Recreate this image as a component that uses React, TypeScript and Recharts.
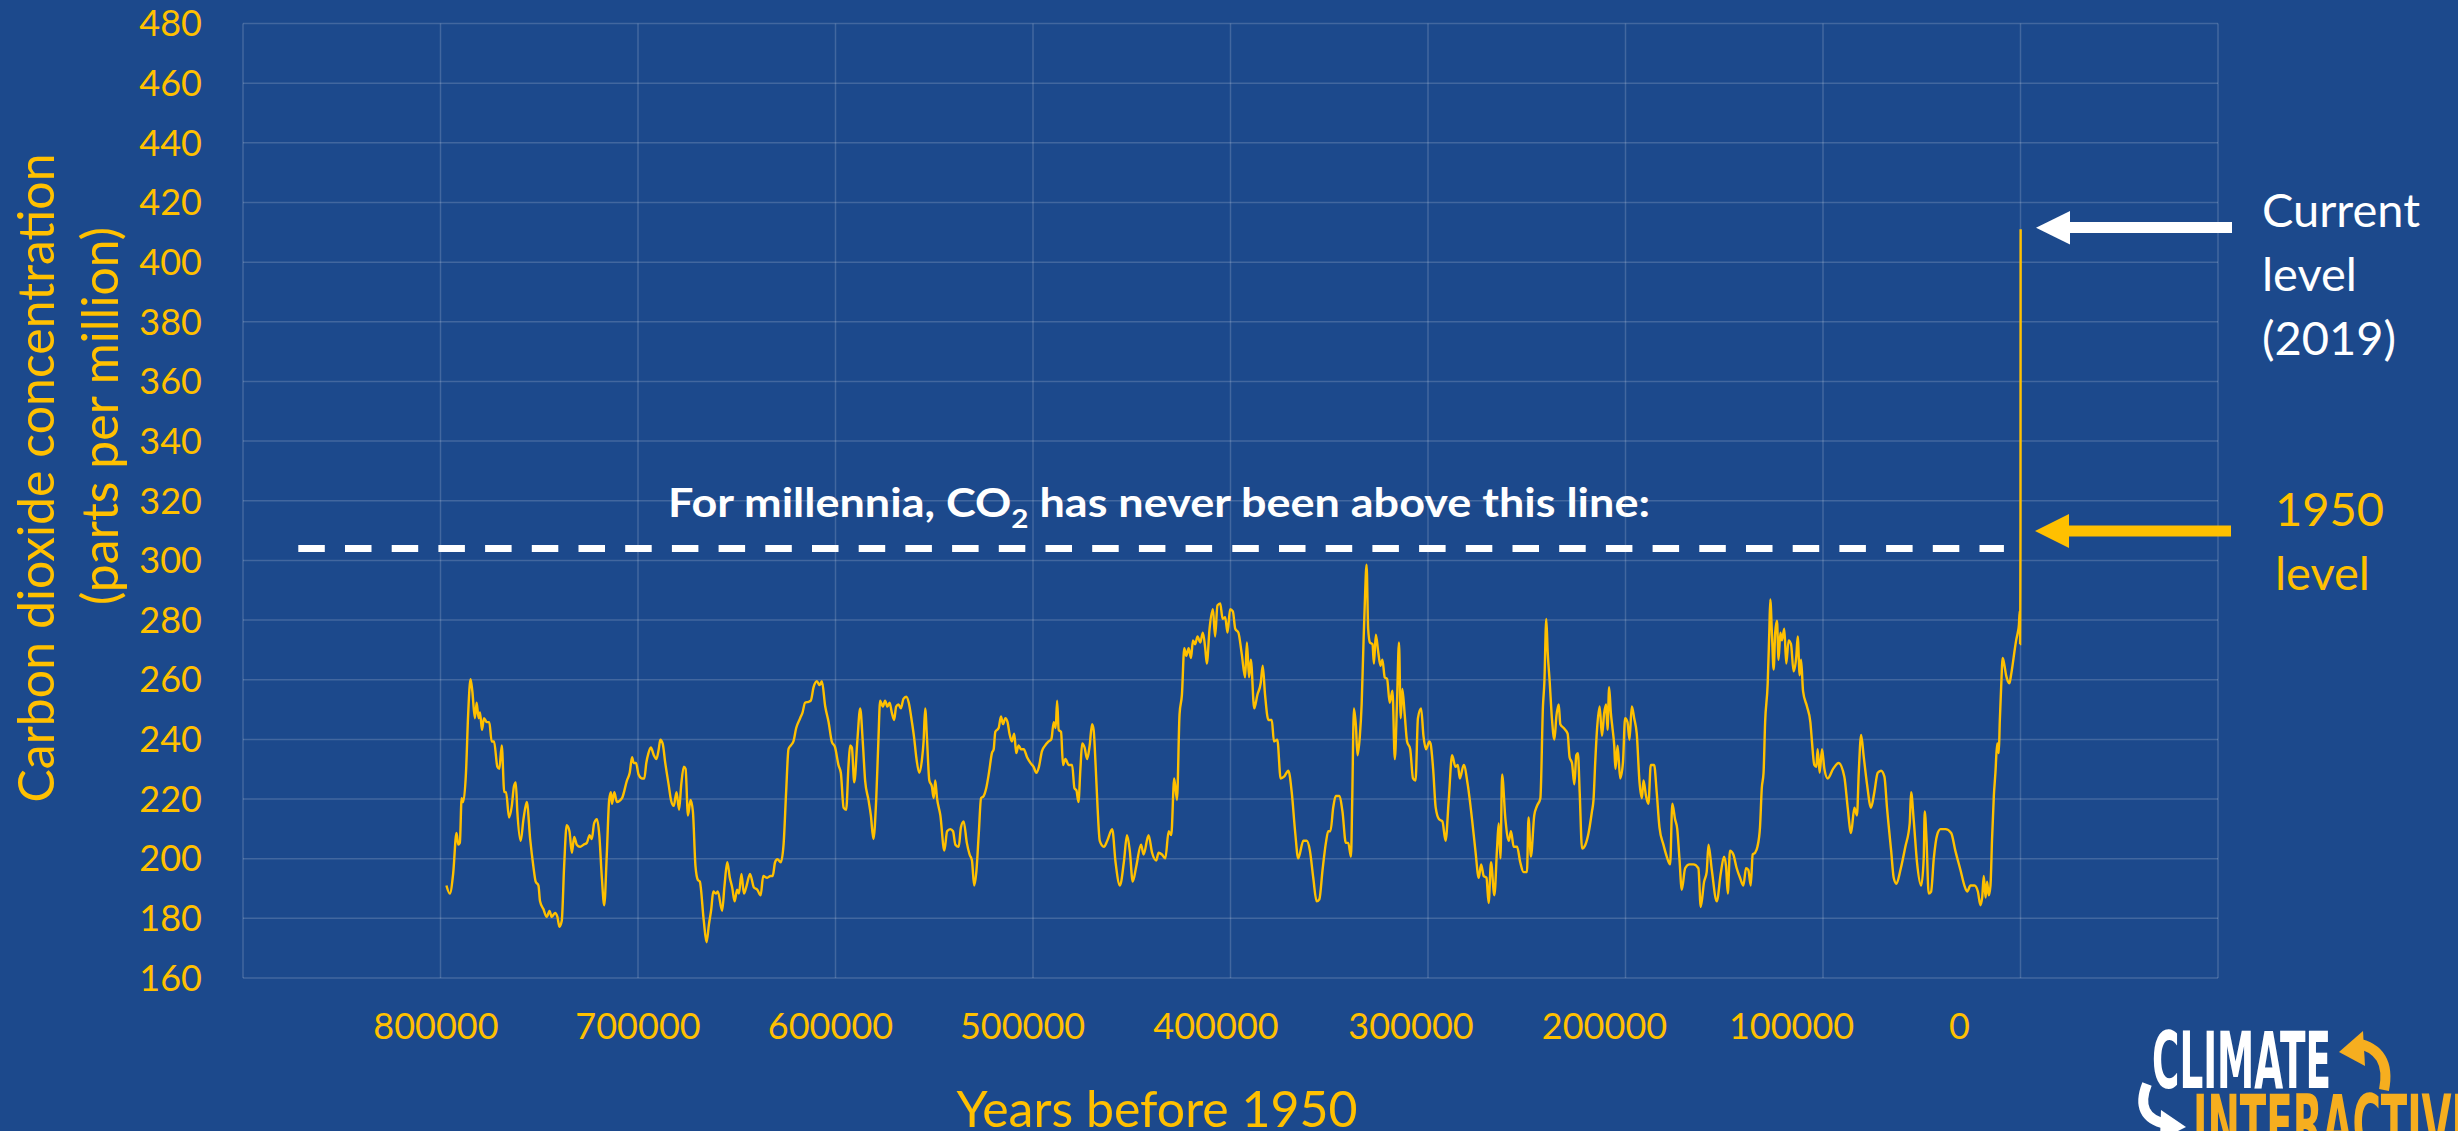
import { LineChart, Line, XAxis, YAxis, CartesianGrid, ReferenceLine } from "recharts";

// CO2 (ppm) against years before 1950, one glacial cycle per list
const cycle800k: [number, number][] = [
  [797000, 191], [795300, 188.3], [793600, 194.9], [791900, 208.6], [791000, 204.7], [790200, 205.3],
  [789300, 220.3], [788500, 219], [787100, 228.8], [786000, 248.4], [784800, 260.2], [783900, 256.3],
  [782600, 247.1], [781700, 252.3], [780700, 247.1], [780000, 249], [779000, 243.2], [778000, 247.1],
  [776600, 245.8], [775300, 245.8], [774100, 239.3], [772900, 239.3], [771200, 230.8], [770200, 230.1],
  [769000, 238], [767700, 222.3], [766800, 222.3], [765300, 213.8], [763900, 217.7], [762800, 224.3],
  [761900, 225.6], [761100, 215.8], [759400, 206], [758000, 213.2], [756300, 219], [754600, 206.6],
  [753000, 197.5], [751800, 192.3], [750400, 191], [749600, 185.7], [747900, 183.1], [746200, 180.5],
  [744800, 182.5], [743700, 180.5], [742000, 181.8], [740800, 180.5], [739800, 177.2], [738600, 179.2],
  [737400, 197.5], [736100, 211.2], [734700, 209.2], [733500, 202], [732300, 207.3], [731000, 204.7],
  [729300, 204], [727600, 204.7], [725900, 205.3], [724500, 207.9], [723400, 206.6], [722200, 211.9],
  [720800, 213.2], [719600, 207.9], [718300, 193.6], [717100, 184.4], [715800, 201.4], [714600, 219.7],
  [713700, 222.3], [713200, 218.4], [712000, 222.3], [710700, 219], [708100, 220.3], [705600, 226.2],
  [704200, 228.8], [703000, 234], [702200, 232.1], [701000, 232.1],
];

const cycle700k: [number, number][] = [
  [699700, 228.2], [698000, 226.9], [696800, 226.9], [695800, 232.1], [694700, 235.4], [693500, 237.3],
  [692000, 234.7], [690700, 233.4], [689500, 236.7], [688700, 239.9], [687500, 238.6], [686200, 232.1],
  [684500, 224.9], [683300, 219.7], [681900, 217.7], [680500, 222.3], [679200, 216.4], [678100, 224.9],
  [676800, 230.8], [675900, 230.1], [674700, 214.5], [673400, 219.7], [672200, 215.8], [670900, 197.5],
  [669700, 192.9], [668700, 192.3], [666700, 179.2], [665300, 172], [664100, 177.9], [662900, 183.1],
  [661900, 189], [660600, 188.3], [659600, 189], [657400, 182.5], [656200, 191], [654800, 198.8],
  [653500, 193.6], [652300, 190.3], [651100, 185.7], [649800, 189.6], [648900, 188.3], [647600, 194.9],
  [646400, 188.3], [645000, 191], [643300, 194.9], [641300, 190.3], [639600, 189.6], [637900, 187.7],
  [636600, 194.2], [634600, 193.6], [632900, 194.2], [631800, 194.2], [630600, 198.8], [629400, 199.8],
  [627700, 198.8], [626300, 204.7], [625000, 222.3], [623800, 236.7], [622600, 238], [621300, 239.3],
  [619900, 243.8], [617900, 247.1], [616700, 249], [615400, 252.3], [613700, 252.6], [612500, 253],
  [611100, 257.5], [609400, 259.5], [608100, 258.2], [606900, 259.5], [605200, 251], [603500, 245.8],
  [601900, 239.3], [600200, 237.3],
];

const cycle600k: [number, number][] = [
  [598500, 231.4], [597300, 228.8], [595900, 217.1], [594600, 216.4], [593400, 231.4], [592600, 238],
  [591700, 237.3], [590500, 225.6], [588900, 239.9], [587500, 250.4], [586200, 239.3], [585000, 226.2],
  [583300, 219.7], [582100, 214.5], [580800, 206.6], [579400, 219.7], [578300, 239.3], [577400, 253],
  [576000, 251], [574900, 253], [573700, 251], [572600, 252.3], [571500, 249], [570300, 246.5],
  [569300, 251], [568100, 251.7], [566900, 250.4], [565600, 253.6], [564200, 254.3], [562900, 252.3],
  [561300, 245.8], [560200, 240.6], [559100, 234], [557600, 228.8], [556200, 233.4], [555400, 239.3],
  [554600, 250.4], [553700, 240.6], [552500, 226.2], [551200, 224.2], [550300, 220.3], [549500, 226.2],
  [548600, 220.3], [546900, 214.5], [544900, 202.7], [543500, 209.2], [541900, 209.9], [540500, 209.2],
  [539300, 204.7], [537600, 204], [536500, 210.5], [535100, 212.5], [533500, 205.3], [532100, 201.4],
  [530900, 199.4], [529800, 191], [528700, 195.5], [527500, 207.9], [526300, 220.3], [525000, 221],
  [523700, 223.6], [522300, 228.8], [520800, 235.4], [519900, 236.7], [519100, 242.5], [517400, 243.8],
  [516200, 247.7], [515200, 245.1], [514000, 247.1], [512900, 245.8], [511900, 241.9], [510700, 239.3],
  [509500, 241.9], [508500, 235.4], [507300, 238], [506100, 236.7], [504700, 236.7], [503000, 234],
  [501300, 232.1],
];

const cycle500k: [number, number][] = [
  [499700, 230.8], [498300, 228.8], [497000, 230.8], [495500, 236], [493800, 238], [492100, 239.3],
  [490700, 240.1], [489500, 245.8], [488500, 243.8], [487800, 253], [487000, 243.2], [485800, 242.5],
  [484800, 231.4], [483600, 233.4], [481900, 231.4], [480200, 231.4], [479000, 223.6], [478000, 222.9],
  [477000, 219], [476000, 230.1], [475100, 238.6], [473900, 237.3], [472600, 233.4], [471300, 238],
  [470100, 245.1], [469300, 243.2], [468300, 231.4], [467300, 217.1], [466200, 206], [464100, 204],
  [462400, 206], [459900, 209.9], [458200, 198.8], [456000, 191], [454000, 198.8], [452400, 207.9],
  [451000, 202.7], [449500, 192.3], [447700, 197.5], [445300, 204.7], [444000, 201.4], [441500, 207.9],
  [439700, 202], [437600, 199.4], [436400, 202], [434700, 201.4], [433000, 200.1], [431300, 209.2],
  [430000, 207.9], [428500, 226.9], [427100, 219.7], [425800, 248.4], [424600, 254.9], [423400, 270.6],
  [422400, 268], [421200, 270.6], [420000, 267.3], [419000, 273.2], [417900, 271.9], [416700, 274.5],
  [415300, 272.5], [414000, 275.8], [412800, 270.6], [412000, 265.4], [410600, 277.1], [408900, 283.6],
  [407800, 274.5], [406600, 284.9], [405200, 285.6], [404000, 280.4], [402700, 281], [401500, 275.8],
  [400200, 283.6],
];

const cycle400k: [number, number][] = [
  [398800, 282.9], [397600, 277.1], [396000, 275.8], [394300, 268.6], [392600, 260.8], [391700, 272.5],
  [390600, 260.8], [389700, 266.7], [388000, 250.4], [386400, 254.9], [384700, 258.9], [383700, 264.7],
  [382500, 254.9], [380800, 246.5], [379100, 246.5], [378000, 239.3], [376300, 239.9], [374600, 226.9],
  [372900, 227.5], [370700, 229.5], [369000, 222.3], [367300, 209.2], [365700, 200.1], [363100, 206],
  [361400, 206], [359800, 202.7], [358100, 193.6], [356400, 185.7], [355000, 186.4], [353400, 196.2],
  [351700, 205.3], [350500, 209.2], [349400, 209.2], [348000, 217.1], [346700, 221], [345000, 221],
  [343300, 215.8], [341600, 205.3], [340400, 205.3], [339000, 200.7], [338400, 218.4], [337500, 250.4],
  [336500, 244.5], [335700, 234.7], [334500, 241.2], [333600, 251.7], [332800, 269.3], [332000, 285.6],
  [331100, 298.6], [330300, 277.1], [329400, 272.5], [328100, 271.9], [327400, 265.4], [326400, 275.1],
  [325200, 269.3], [324100, 264.7], [323100, 266.7], [321900, 260.8], [320700, 260.2], [319400, 252.3],
  [318000, 256.3], [316800, 233.4], [315700, 252.3], [314700, 272.5], [313800, 247.1], [313000, 256.9],
  [311800, 248.4], [310600, 239.3], [309000, 236.7], [307600, 226.9], [306300, 226.2], [305100, 247.1],
  [303500, 250.4], [302300, 241.2], [301000, 236.7],
];

const cycle300k: [number, number][] = [
  [299300, 239.3], [298700, 238.6], [297400, 230.1], [296100, 217.1], [294400, 213.2], [292700, 212.5],
  [291100, 206], [289500, 219.7], [287800, 234.7], [286100, 230.8], [284900, 231.4], [283900, 226.9],
  [281900, 231.4], [279900, 224.9], [277700, 213.2], [276000, 202.7], [274300, 193.6], [273100, 198.1],
  [271800, 194.2], [270400, 193.6], [269300, 185.1], [268100, 198.8], [266400, 187.7], [265000, 204],
  [264200, 211.8], [263300, 200.1], [262500, 228.2], [260800, 213.2], [259100, 206], [258000, 209.2],
  [256600, 204], [254900, 204], [253300, 198.8], [251600, 195.5], [249900, 195.5], [249100, 213.8],
  [247900, 200.7], [246200, 214.5], [244800, 217.7], [243100, 220.3], [241800, 251], [241100, 258.8],
  [240100, 280.4], [239400, 269.3], [238400, 259.5], [237200, 246.5], [236000, 239.9], [235000, 247.7],
  [233800, 251.7], [233000, 245.1], [231300, 243.8], [229300, 241.9], [228300, 234], [227100, 232.1],
  [225900, 224.9], [224900, 234.7], [224100, 235.4], [223200, 222.3], [222000, 203.4], [220300, 204.7],
  [218700, 208.6], [217000, 215.8], [216200, 219.7], [215300, 232.7], [214500, 242.5], [213100, 251],
  [211900, 241.2], [210800, 248.8], [209800, 251.7], [209100, 243.2], [208300, 257.5], [207400, 248.8],
  [206600, 243.8], [205700, 237.9], [205100, 230.1], [204000, 237.9], [202700, 226.9], [201300, 232.1],
  [200200, 247.1],
];

const cycle200k: [number, number][] = [
  [199000, 245.8], [198000, 239.9], [196800, 251], [195600, 247.1], [194300, 241.9], [192900, 225.6],
  [191700, 220.3], [190900, 226.2], [189600, 221], [188400, 218.4], [187200, 231.4], [185500, 231.4],
  [184200, 222.3], [182800, 210.5], [180800, 204.7], [179100, 200.7], [177400, 198.1], [176300, 218.4],
  [174900, 213.2], [173800, 209.9], [172700, 200.1], [171500, 189.6], [169800, 196.8], [167600, 198.1],
  [165600, 198.1], [163100, 196.8], [161900, 183.8], [160200, 192.3], [158900, 195.5], [158000, 204.7],
  [156300, 196.2], [153800, 185.7], [151800, 194.9], [150100, 200.7], [149100, 197.5], [148200, 188.3],
  [147100, 202.7], [145400, 201.4], [143700, 196.8], [142000, 193.6], [140300, 191], [139000, 196.8],
  [137800, 196.2], [136600, 191], [135600, 201.4], [134400, 202], [133200, 204], [131900, 210.5],
  [131000, 223.6], [130100, 228.8], [129300, 245.8], [128000, 258.8], [127200, 275.8], [126700, 286.9],
  [125800, 274.5], [125000, 263.4], [124200, 275.8], [123300, 279.8], [122500, 266.7], [121600, 275.8],
  [120800, 273.2], [119600, 277.1], [118600, 265.4], [117400, 273.2], [116200, 271.9], [114900, 262.8],
  [113500, 268], [112800, 274.5], [111800, 261.5], [111100, 266.7], [110100, 256.2], [108100, 251],
  [106400, 245.8], [105600, 239.3], [104400, 231.4], [103400, 230.8], [102700, 236.7], [101700, 228.8],
  [100500, 236.7],
];

const cycle100k: [number, number][] = [
  [99300, 230.1], [97600, 226.9], [94900, 230.1], [92100, 232.1], [89200, 227.5], [87500, 217.1],
  [85800, 208.6], [84100, 217.1], [82800, 214.5], [81900, 228.8], [80700, 241.5], [79400, 234.3],
  [77700, 224.9], [75700, 217.1], [74000, 222.3], [72300, 228.8], [70600, 229.5], [68900, 227.5],
  [67600, 217.1], [65500, 202.7], [64200, 193.6], [62800, 191.6], [60800, 196.2], [58300, 204],
  [56100, 211.8], [55400, 222.3], [54100, 213.2], [52400, 198.8], [50300, 191], [49000, 200.1],
  [48500, 215.8], [47600, 206.6], [46500, 188.3], [45300, 188.9], [43900, 200.1], [42200, 208],
  [40500, 209.9], [38000, 209.9], [35100, 208.6], [33000, 202.7], [30400, 196.2], [28400, 191],
  [27000, 189], [25300, 191], [23300, 191], [21600, 189], [20300, 184.4], [19400, 187],
  [18600, 194.2], [17700, 187], [16900, 192.3], [16100, 187.7], [15200, 191], [14400, 206.6],
  [13500, 221], [12700, 228.8], [11800, 238.6], [11000, 235.4], [10500, 245.8], [9800, 257.5],
  [9000, 267.3], [8100, 264.7], [7300, 261.5], [6400, 259.5], [5600, 258.8], [4800, 261.5],
  [3900, 265.4], [3100, 269.3], [2200, 273.2], [1400, 275.8], [800, 278.4], [400, 283],
  [200, 272], [100, 285], [0, 311], [-69, 411],
];

const yTicks = [160, 180, 200, 220, 240, 260, 280, 300, 320, 340, 360, 380, 400, 420, 440, 460, 480];
const xGridTicks = [900000, 800000, 700000, 600000, 500000, 400000, 300000, 200000, 100000, 0, -100000];
const xTickLabels = [800000, 700000, 600000, 500000, 400000, 300000, 200000, 100000, 0];

// "never been above" line: ppm level and the span of years it covers
const ceilingPpm = 304;
const ceilingFrom = 872000;
const ceilingTo = 8400;

const data = [
  ...cycle800k, ...cycle700k, ...cycle600k, ...cycle500k,
  ...cycle400k, ...cycle300k, ...cycle200k, ...cycle100k,
].map(([year, ppm]) => ({ year, ppm }));

const BG = "#1C498C";
const GOLD = "#FFC000";
const ORANGE = "#F6AE1F";

// the labels in the source sit a little left of their gridlines
const labelNudge: Record<number, number> = {
  800000: -4.6, 700000: 0, 600000: -5, 500000: -10.4, 400000: -14.5,
  300000: -17, 200000: -21, 100000: -31.4, 0: -61,
};

const XTick = (props: any) => {
  const { x, y, payload } = props;
  if (!xTickLabels.includes(payload.value)) return null;
  return (
    <text x={x + (labelNudge[payload.value] ?? 0)} y={y + 61} textAnchor="middle" fill={GOLD} fontSize={36}>
      {payload.value}
    </text>
  );
};

const Annotations = () => (
  <svg width={2458} height={1131} style={{ position: "absolute", left: 0, top: 0, pointerEvents: "none" }}>
    <g fill={GOLD} fontSize={50} textAnchor="middle">
      <text transform="translate(54 478) rotate(-90)">Carbon dioxide concentration</text>
      <text transform="translate(118 416) rotate(-90)">(parts per million)</text>
      <text x={1157} y={1127}>Years before 1950</text>
    </g>

    <text x={668} y={517} fill="#fff" fontSize={41} fontWeight={700} textLength={982} lengthAdjust="spacingAndGlyphs">
      For millennia, CO<tspan dy={11} fontSize={27}>2</tspan><tspan dy={-11}> has never been above this line:</tspan>
    </text>

    {/* current level arrow */}
    <rect x={2066} y={222} width={166} height={11} fill="#fff" />
    <polygon points="2036,227.7 2070,211 2070,244.6" fill="#fff" />
    <g fill="#fff" fontSize={47}>
      <text x={2262} y={227}>Current</text>
      <text x={2262} y={291}>level</text>
      <text x={2262} y={355}>(2019)</text>
    </g>

    {/* 1950 arrow */}
    <rect x={2065} y={525.5} width={166} height={11} fill={GOLD} />
    <polygon points="2035,531 2069,514 2069,548" fill={GOLD} />
    <g fill={GOLD} fontSize={47}>
      <text x={2275} y={526}>1950</text>
      <text x={2275} y={590}>level</text>
    </g>

    {/* logo */}
    <g fontFamily="'Liberation Sans Narrow', 'DejaVu Sans Condensed', 'Liberation Sans', sans-serif" fontWeight={700} fontSize={78}>
      <text x={2152} y={1088} fill="#fff" textLength={179} lengthAdjust="spacingAndGlyphs">CLIMATE</text>
      <text x={2193} y={1151} fill={ORANGE} textLength={285} lengthAdjust="spacingAndGlyphs">INTERACTIVE</text>
    </g>
    <path d="M2356 1043 Q2392 1050 2384 1090" stroke={ORANGE} strokeWidth={10} fill="none" />
    <polygon points="2339,1052 2363,1031 2365,1066" fill={ORANGE} />
    <path d="M2147 1084 Q2134 1117 2166 1124" stroke="#fff" strokeWidth={10} fill="none" />
    <polygon points="2186,1127 2161,1110 2160,1140" fill="#fff" />
  </svg>
);

export default function App() {
  return (
    <div
      style={{
        position: "absolute", left: 0, top: 0, width: 2458, height: 1131, overflow: "hidden",
        background: BG, fontFamily: "Lato, 'Open Sans', sans-serif",
      }}
    >
      <LineChart width={2458} height={1131} data={data} margin={{ top: 23.5, right: 240, bottom: 0, left: 0 }}>
        <CartesianGrid stroke="rgba(255,255,255,0.17)" strokeWidth={1.5} />
        <XAxis
          dataKey="year"
          type="number"
          domain={[-100000, 900000]}
          reversed
          ticks={xGridTicks}
          interval={0}
          height={153}
          axisLine={false}
          tickLine={false}
          tickSize={0}
          tickMargin={0}
          tick={(p: any) => <XTick {...p} />}
        />
        <YAxis
          type="number"
          domain={[160, 480]}
          ticks={yTicks}
          interval={0}
          width={243}
          axisLine={false}
          tickLine={false}
          tickSize={0}
          tickMargin={41}
          tick={{ fill: GOLD, fontSize: 36 }}
        />
        <ReferenceLine
          segment={[{ x: ceilingFrom, y: ceilingPpm }, { x: ceilingTo, y: ceilingPpm }]}
          stroke="#fff"
          strokeWidth={7}
          strokeDasharray="26.5 20.2"
        />
        <Line
          dataKey="ppm"
          type="monotone"
          stroke={GOLD}
          strokeWidth={2.4}
          dot={false}
          isAnimationActive={false}
        />
      </LineChart>
      <Annotations />
    </div>
  );
}
